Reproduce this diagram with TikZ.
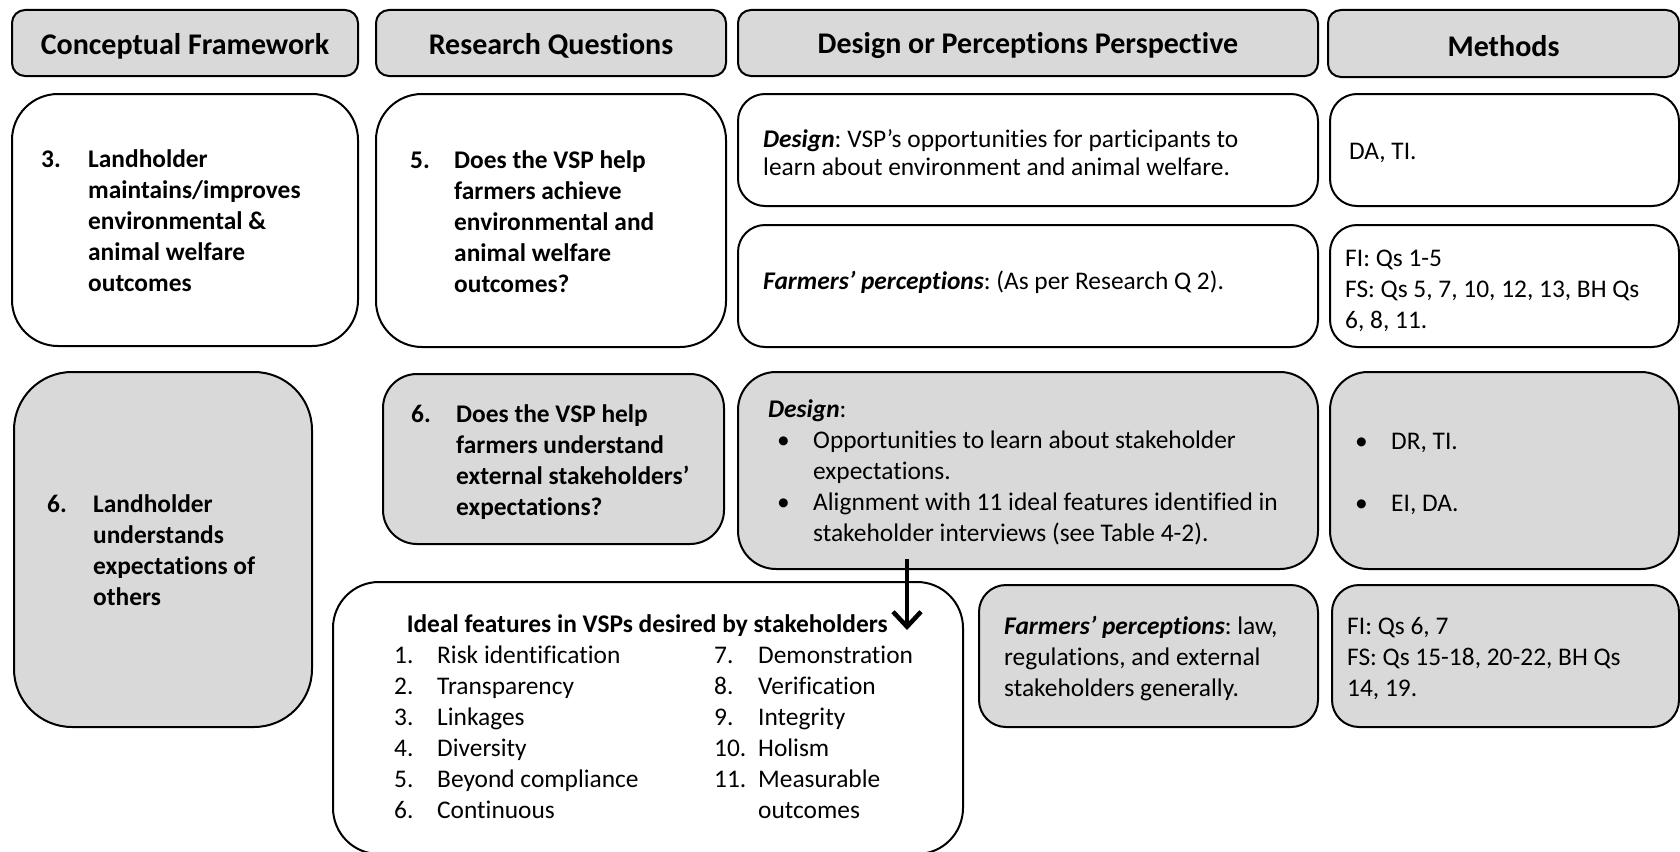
\documentclass[tikz,border=0pt]{standalone}
\usepackage{fontspec}
\setmainfont{Carlito}[Ligatures=NoCommon]
\usepackage{array}
\usetikzlibrary{arrows.meta,calc}

\definecolor{boxgray}{HTML}{D9D9D9}

\newcommand{\bodyfont}{\fontsize{25.4}{31}\selectfont\frenchspacing}
\newcommand{\headfont}{\fontsize{30}{36}\selectfont\bfseries}
\newcommand{\bi}[1]{\textbf{\textit{#1}}}

\tikzset{
  panel/.style={draw=black, line width=2pt, rectangle, inner sep=0pt, anchor=north west},
  headbox/.style={panel, fill=boxgray, rounded corners=13pt},
  whitebox/.style={panel, fill=white},
  graybox/.style={panel, fill=boxgray},
  boxtext/.style={anchor=west, inner sep=0pt, font=\bodyfont, align=left, yshift=-3.5pt},
  headtext/.style={inner sep=0pt, font=\headfont, yshift=-3pt},
  pointer/.style={draw=black, line width=4.5pt, -{Straight Barb[length=15pt,width=28pt,line width=4.5pt]}}
}

\begin{document}
\begin{tikzpicture}[x=1pt,y=-1pt]
\useasboundingbox (0,0) rectangle (1680,851);

% ---- column headers ----
\node[headbox, minimum width=346pt, minimum height=66pt] (hcf) at (11,9) {};
\node[headbox, minimum width=350pt, minimum height=66pt] (hrq) at (375,9) {};
\node[headbox, minimum width=580pt, minimum height=66pt] (hdp) at (737,9) {};
\node[headbox, minimum width=351pt, minimum height=67pt] (hme) at (1327,9) {};
\node[headtext] (hcft) at (hcf.center) {Conceptual Framework};
\node[headtext] (hrqt) at (hrq.center) {Research Questions};
\node[headtext] (hdpt) at (hdp.center) {Design or Perceptions Perspective};
\node[headtext] (hmet) at (hme.center) {Methods};

% ---- first row (white) ----
\node[whitebox, rounded corners=46pt, minimum width=346pt, minimum height=252pt] (cf1) at (11,93) {};
\node[whitebox, rounded corners=46pt, minimum width=350pt, minimum height=253pt] (rq1) at (375,93) {};
\node[whitebox, rounded corners=27pt, minimum width=580pt, minimum height=112pt] (d1) at (737,93) {};
\node[whitebox, rounded corners=27pt, minimum width=349pt, minimum height=112pt] (m1) at (1329,93) {};
\node[whitebox, rounded corners=27pt, minimum width=580pt, minimum height=122pt] (fp1) at (737,224) {};
\node[whitebox, rounded corners=27pt, minimum width=349pt, minimum height=122pt] (m2) at (1329,224) {};

\node[boxtext] (cf1t) at ([xshift=30pt]cf1.west) {\bfseries
  \begin{tabular}{@{}p{47pt}@{}l@{}}
  3. & Landholder\\
     & maintains/improves\\
     & environmental \&\\
     & animal welfare\\
     & outcomes
  \end{tabular}};
\node[boxtext] (rq1t) at ([xshift=35pt]rq1.west) {\bfseries
  \begin{tabular}{@{}p{44pt}@{}l@{}}
  5. & Does the VSP help\\
     & farmers achieve\\
     & environmental and\\
     & animal welfare\\
     & outcomes?
  \end{tabular}};
\node[boxtext, font=\fontsize{25.4}{28}\selectfont\frenchspacing, yshift=1pt] (d1t) at ([xshift=26pt]d1.west)
  {\bi{Design}: VSP’s opportunities for participants to\\learn about environment and animal welfare.};
\node[boxtext, yshift=1pt] (m1t) at ([xshift=20pt]m1.west) {DA, TI.};
\node[boxtext, yshift=7pt] (fp1t) at ([xshift=26pt]fp1.west) {\bi{Farmers’ perceptions}: (As per Research Q 2).};
\node[boxtext, yshift=-1pt] (m2t) at ([xshift=16pt]m2.west)
  {FI: Qs 1-5\\FS: Qs 5, 7, 10, 12, 13, BH Qs\\6, 8, 11.};

% ---- second row (grey) ----
\node[graybox, rounded corners=58pt, minimum width=298pt, minimum height=355pt] (cf2) at (13,371) {};
\node[graybox, rounded corners=34pt, minimum width=341pt, minimum height=170pt] (rq2) at (382,373) {};
\node[graybox, rounded corners=38pt, minimum width=580pt, minimum height=197pt] (d2) at (737,371) {};
\node[graybox, rounded corners=38pt, minimum width=349pt, minimum height=197pt] (m3) at (1329,371) {};
\node[whitebox, rounded corners=46pt, minimum width=630pt, minimum height=272pt] (ideal) at (332,581) {};
\node[graybox, rounded corners=27pt, minimum width=339pt, minimum height=142pt] (fp2) at (978,584) {};
\node[graybox, rounded corners=27pt, minimum width=347pt, minimum height=142pt] (m4) at (1331,584) {};

\node[boxtext] (cf2t) at ([xshift=34pt]cf2.west) {\bfseries
  \begin{tabular}{@{}p{46pt}@{}l@{}}
  6. & Landholder\\
     & understands\\
     & expectations of\\
     & others
  \end{tabular}};
\node[boxtext] (rq2t) at ([xshift=29pt]rq2.west) {\bfseries
  \begin{tabular}{@{}p{45pt}@{}l@{}}
  6. & Does the VSP help\\
     & farmers understand\\
     & external stakeholders’\\
     & expectations?
  \end{tabular}};
\node[boxtext, yshift=1pt] (d2t) at ([xshift=31pt]d2.west) {%
  \begin{tabular}{@{\hspace{9pt}}p{36pt}@{}l@{}}
  \multicolumn{2}{@{}l}{\bi{Design}:}\\
  \textbullet & Opportunities to learn about stakeholder\\
              & expectations.\\
  \textbullet & Alignment with 11 ideal features identified in\\
              & stakeholder interviews (see Table 4-2).
  \end{tabular}};
\node[boxtext] (m3t) at ([xshift=26pt]m3.west) {%
  \begin{tabular}{@{}p{36pt}@{}l@{}}
  \textbullet & DR, TI.\\
              & \\
  \textbullet & EI, DA.
  \end{tabular}};
\node[boxtext, yshift=1pt] (fp2t) at ([xshift=26pt]fp2.west)
  {\bi{Farmers’ perceptions}: law,\\regulations, and external\\stakeholders generally.};
\node[boxtext, yshift=1pt] (m4t) at ([xshift=16pt]m4.west)
  {FI: Qs 6, 7\\FS: Qs 15-18, 20-22, BH Qs\\14, 19.};

% ---- ideal features list ----
\node[boxtext, yshift=2.5pt] (idealt) at ([xshift=62pt]ideal.west) {%
  \begin{tabular}{@{}p{43pt}@{}p{277pt}@{}p{44pt}@{}l@{}}
  \multicolumn{4}{@{}l@{}}{\makebox[506pt][c]{\bfseries Ideal features in VSPs desired by stakeholders}}\\
  1. & Risk identification & 7.  & Demonstration\\
  2. & Transparency        & 8.  & Verification\\
  3. & Linkages            & 9.  & Integrity\\
  4. & Diversity           & 10. & Holism\\
  5. & Beyond compliance   & 11. & Measurable\\
  6. & Continuous          &     & outcomes
  \end{tabular}};

% ---- link from the design box to the list of ideal features ----
\draw[pointer] ($(d2.south west)+(170,-11)$) -- ($(ideal.north west)+(575,49)$);

\end{tikzpicture}
\end{document}
